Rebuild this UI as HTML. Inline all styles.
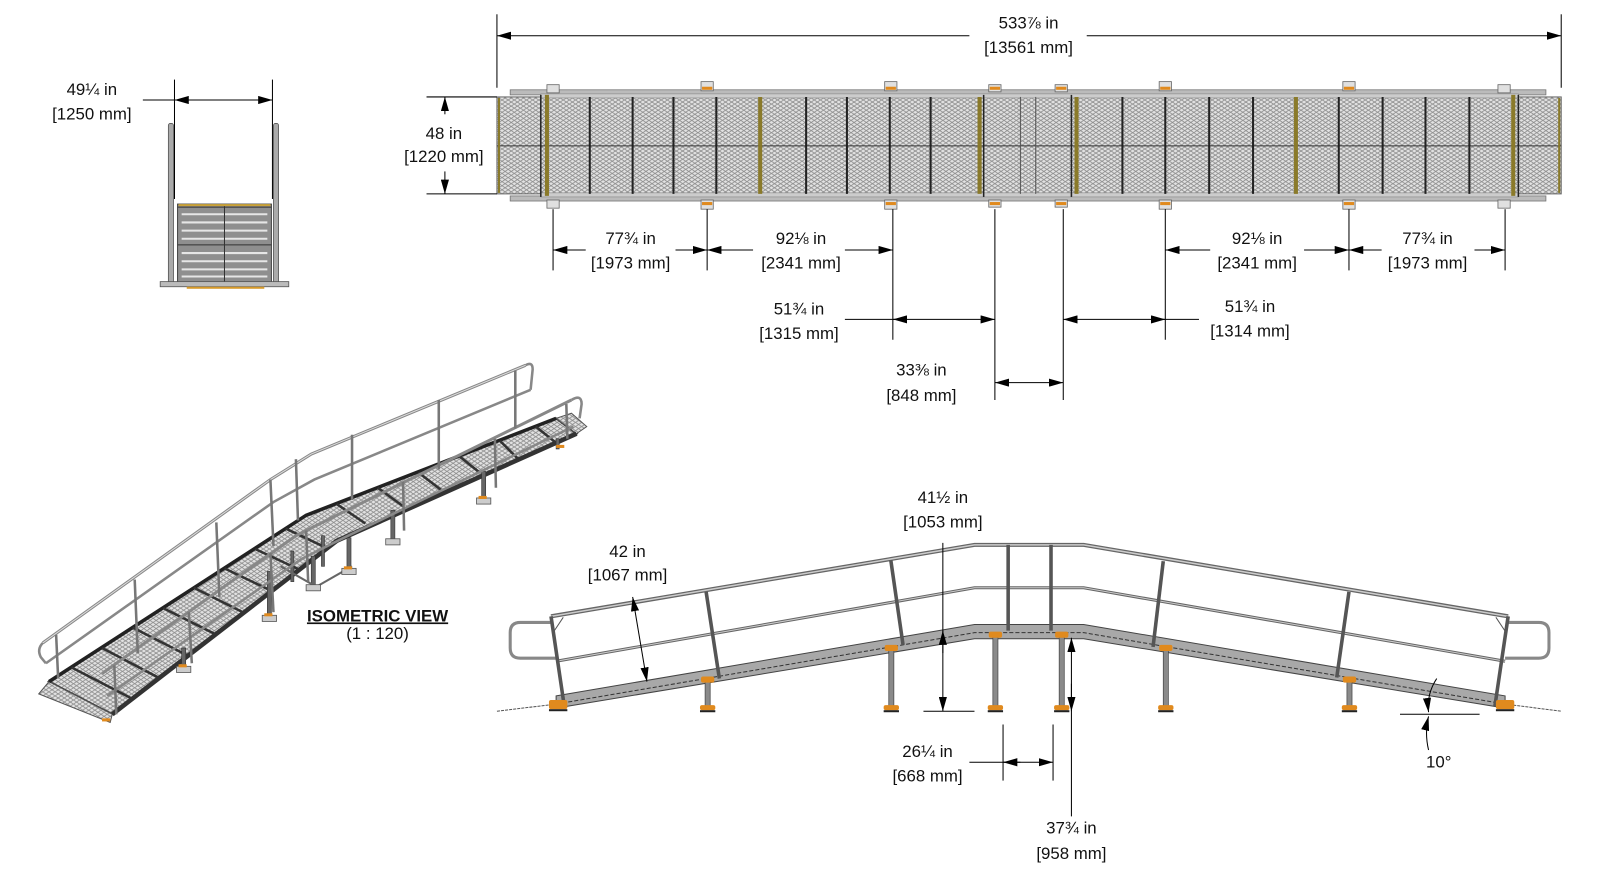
<!DOCTYPE html>
<html><head><meta charset="utf-8"><style>
html,body{margin:0;padding:0;background:#fff;}
svg{display:block}
text{font-family:"Liberation Sans",Arial,sans-serif;fill:#111;font-size:16.5px;text-anchor:middle}
</style></head><body>
<svg width="1600" height="877" viewBox="0 0 1600 877" xmlns="http://www.w3.org/2000/svg">
<defs>
<pattern id="mesh" width="6" height="4" patternUnits="userSpaceOnUse">
<rect width="6" height="4" fill="#e2e2e2"/>
<path d="M0 2 L3 0 L6 2 L3 4 Z" fill="none" stroke="#8a8a8a" stroke-width="0.8"/>
</pattern>
<marker id="ar" markerWidth="14" markerHeight="8" refX="14" refY="4" orient="auto" markerUnits="userSpaceOnUse">
<path d="M0 0 L14 4 L0 8 Z" fill="#000"/></marker>
<marker id="al" markerWidth="14" markerHeight="8" refX="0" refY="4" orient="auto" markerUnits="userSpaceOnUse">
<path d="M14 0 L0 4 L14 8 Z" fill="#000"/></marker>
</defs>
<g transform="scale(1.0204)">
<!-- ============ PLAN VIEW ============ -->
<g>
<rect x="487" y="95" width="1043" height="95" fill="url(#mesh)" stroke="#666" stroke-width="1"/>
<line x1="487" y1="143" x2="1530" y2="143" stroke="#333" stroke-width="1"/>
<rect x="500" y="88" width="1015" height="5" fill="#bbb" stroke="#777" stroke-width="0.8"/>
<rect x="500" y="192" width="1015" height="5" fill="#bbb" stroke="#777" stroke-width="0.8"/>
<rect x="530" y="92" width="958" height="4" fill="#ccc" stroke="#888" stroke-width="0.6"/>
<rect x="530" y="189" width="958" height="4" fill="#ccc" stroke="#888" stroke-width="0.6"/>
<g stroke="#222" stroke-width="2">
<line x1="578" y1="95" x2="578" y2="190"/><line x1="620" y1="95" x2="620" y2="190"/>
<line x1="660" y1="95" x2="660" y2="190"/><line x1="702" y1="95" x2="702" y2="190"/>
<line x1="790" y1="95" x2="790" y2="190"/><line x1="830" y1="95" x2="830" y2="190"/>
<line x1="872" y1="95" x2="872" y2="190"/><line x1="912" y1="95" x2="912" y2="190"/>
<line x1="1100" y1="95" x2="1100" y2="190"/><line x1="1142" y1="95" x2="1142" y2="190"/>
<line x1="1185" y1="95" x2="1185" y2="190"/><line x1="1228" y1="95" x2="1228" y2="190"/>
<line x1="1312" y1="95" x2="1312" y2="190"/><line x1="1355" y1="95" x2="1355" y2="190"/>
<line x1="1397" y1="95" x2="1397" y2="190"/><line x1="1440" y1="95" x2="1440" y2="190"/>
<line x1="1000" y1="95" x2="1000" y2="190" stroke="#555" stroke-width="1"/>
<line x1="1015" y1="95" x2="1015" y2="190" stroke="#555" stroke-width="1"/>
</g>
<g stroke="#8a7a2a" stroke-width="4">
<line x1="489" y1="96" x2="489" y2="189" stroke-width="2"/>
<line x1="536" y1="93" x2="536" y2="192"/><line x1="745" y1="95" x2="745" y2="190"/>
<line x1="960" y1="95" x2="960" y2="190"/><line x1="1055" y1="95" x2="1055" y2="190"/>
<line x1="1270" y1="95" x2="1270" y2="190"/><line x1="1483" y1="93" x2="1483" y2="192"/>
<line x1="1528" y1="96" x2="1528" y2="189" stroke-width="2"/>
</g>
<g stroke="#222" stroke-width="1.5" fill="none">
<line x1="530" y1="93" x2="530" y2="193"/><line x1="964" y1="93" x2="964" y2="193"/>
<line x1="1050" y1="93" x2="1050" y2="193"/><line x1="1488" y1="93" x2="1488" y2="193"/>
</g>
<g fill="#e0e0e0" stroke="#666" stroke-width="0.8">
<rect x="536" y="83" width="12" height="8"/><rect x="536" y="196" width="12" height="8"/>
<rect x="687" y="80" width="12" height="9"/><rect x="687" y="196" width="12" height="9"/>
<rect x="867" y="80" width="12" height="9"/><rect x="867" y="196" width="12" height="9"/>
<rect x="969" y="83" width="12" height="7"/><rect x="969" y="196" width="12" height="7"/>
<rect x="1034" y="83" width="12" height="7"/><rect x="1034" y="196" width="12" height="7"/>
<rect x="1136" y="80" width="12" height="9"/><rect x="1136" y="196" width="12" height="9"/>
<rect x="1316" y="80" width="12" height="9"/><rect x="1316" y="196" width="12" height="9"/>
<rect x="1468" y="83" width="12" height="8"/><rect x="1468" y="196" width="12" height="8"/>
</g>
<g fill="#e08a1e">
<rect x="688" y="85" width="10" height="3"/><rect x="688" y="198" width="10" height="3"/>
<rect x="868" y="85" width="10" height="3"/><rect x="868" y="198" width="10" height="3"/>
<rect x="970" y="85" width="10" height="3"/><rect x="970" y="198" width="10" height="3"/>
<rect x="1035" y="85" width="10" height="3"/><rect x="1035" y="198" width="10" height="3"/>
<rect x="1137" y="85" width="10" height="3"/><rect x="1137" y="198" width="10" height="3"/>
<rect x="1317" y="85" width="10" height="3"/><rect x="1317" y="198" width="10" height="3"/>
</g>
</g>
<g stroke="#000" stroke-width="1" fill="none">
<line x1="487" y1="14" x2="487" y2="86"/><line x1="1530" y1="14" x2="1530" y2="86"/>
<line x1="487" y1="35" x2="950" y2="35" marker-start="url(#al)"/><line x1="1065" y1="35" x2="1530" y2="35" marker-end="url(#ar)"/>
<line x1="418" y1="95" x2="487" y2="95"/><line x1="418" y1="190" x2="487" y2="190"/>
<line x1="436" y1="95" x2="436" y2="112" marker-start="url(#al)"/><line x1="436" y1="168" x2="436" y2="190" marker-end="url(#ar)"/>
<line x1="542" y1="205" x2="542" y2="265"/><line x1="693" y1="205" x2="693" y2="265"/>
<line x1="875" y1="205" x2="875" y2="333"/><line x1="1142" y1="205" x2="1142" y2="333"/>
<line x1="1322" y1="205" x2="1322" y2="265"/><line x1="1475" y1="205" x2="1475" y2="265"/>
<line x1="975" y1="205" x2="975" y2="392"/><line x1="1042" y1="205" x2="1042" y2="392"/>
<line x1="542" y1="245" x2="574" y2="245" marker-start="url(#al)"/><line x1="662" y1="245" x2="693" y2="245" marker-end="url(#ar)"/>
<line x1="693" y1="245" x2="738" y2="245" marker-start="url(#al)"/><line x1="828" y1="245" x2="875" y2="245" marker-end="url(#ar)"/>
<line x1="1142" y1="245" x2="1186" y2="245" marker-start="url(#al)"/><line x1="1278" y1="245" x2="1322" y2="245" marker-end="url(#ar)"/>
<line x1="1322" y1="245" x2="1354" y2="245" marker-start="url(#al)"/><line x1="1445" y1="245" x2="1475" y2="245" marker-end="url(#ar)"/>
<line x1="828" y1="313" x2="975" y2="313" marker-end="url(#ar)"/><line x1="875" y1="313" x2="880" y2="313" marker-start="url(#al)"/>
<line x1="1042" y1="313" x2="1175" y2="313" marker-start="url(#al)"/><line x1="1137" y1="313" x2="1142" y2="313" marker-end="url(#ar)"/>
<line x1="975" y1="375" x2="1042" y2="375" marker-start="url(#al)" marker-end="url(#ar)"/>
</g>
<text x="1008" y="28">533⅞ in</text><text x="1008" y="52">[13561 mm]</text>
<text x="435" y="136">48 in</text><text x="435" y="159">[1220 mm]</text>
<text x="618" y="239">77¾ in</text><text x="618" y="263">[1973 mm]</text>
<text x="785" y="239">92⅛ in</text><text x="785" y="263">[2341 mm]</text>
<text x="1232" y="239">92⅛ in</text><text x="1232" y="263">[2341 mm]</text>
<text x="1399" y="239">77¾ in</text><text x="1399" y="263">[1973 mm]</text>
<text x="783" y="308">51¾ in</text><text x="783" y="332">[1315 mm]</text>
<text x="1225" y="306">51¾ in</text><text x="1225" y="330">[1314 mm]</text>
<text x="903" y="368">33⅜ in</text><text x="903" y="393">[848 mm]</text>

<!-- ============ END VIEW ============ -->
<g>
<line x1="171" y1="78" x2="171" y2="195" stroke="#000"/><line x1="267" y1="78" x2="267" y2="195" stroke="#000"/>
<line x1="140" y1="98" x2="267" y2="98" stroke="#000" marker-end="url(#ar)"/>
<line x1="171" y1="98" x2="185" y2="98" stroke="#000" marker-start="url(#al)"/>
<text x="90" y="93">49¼ in</text><text x="90" y="117">[1250 mm]</text>
<rect x="165" y="121" width="5" height="158" rx="2" fill="#aaa" stroke="#555" stroke-width="0.8"/>
<rect x="268" y="121" width="5" height="158" rx="2" fill="#aaa" stroke="#555" stroke-width="0.8"/>
<rect x="174" y="200" width="92" height="78" fill="#8f8f8f" stroke="#444" stroke-width="1"/>
<g stroke="#e6e6e6" stroke-width="2">
<line x1="178" y1="210" x2="262" y2="210"/><line x1="178" y1="218" x2="262" y2="218"/>
<line x1="178" y1="226" x2="262" y2="226"/><line x1="178" y1="234" x2="262" y2="234"/>
<line x1="178" y1="248" x2="262" y2="248"/><line x1="178" y1="256" x2="262" y2="256"/>
<line x1="178" y1="264" x2="262" y2="264"/><line x1="178" y1="271" x2="262" y2="271"/>
</g>
<g stroke="#333" stroke-width="1"><line x1="174" y1="203" x2="266" y2="203"/><line x1="174" y1="240" x2="266" y2="240"/><line x1="220" y1="200" x2="220" y2="278"/></g>
<rect x="175" y="200" width="90" height="2" fill="#c9a23a"/>
<rect x="157" y="276" width="126" height="5" fill="#bbb" stroke="#555" stroke-width="0.8"/>
<rect x="183" y="281" width="76" height="2" fill="#d69a2a"/>
</g>

<!-- ============ ISOMETRIC VIEW ============ -->
<g>
<polygon points="48,668 300,505 545,410 565,425 330,530 110,700" fill="url(#mesh)" stroke="#333" stroke-width="2"/>
<polygon points="38,680 48,668 110,700 108,708" fill="url(#mesh)" stroke="#555"/>
<polygon points="545,410 560,405 575,418 565,425" fill="url(#mesh)" stroke="#555"/>
<polyline points="48,668 300,505 545,410" fill="none" stroke="#222" stroke-width="3.5"/>
<polyline points="110,700 330,530 565,425" fill="none" stroke="#333" stroke-width="4.5"/>
<g stroke="#333" stroke-width="2.5">
<line x1="70" y1="654" x2="130" y2="685"/><line x1="100" y1="635" x2="157" y2="665"/>
<line x1="130" y1="615" x2="185" y2="643"/><line x1="160" y1="596" x2="212" y2="622"/>
<line x1="190" y1="576" x2="240" y2="601"/><line x1="220" y1="557" x2="268" y2="580"/>
<line x1="250" y1="538" x2="295" y2="559"/><line x1="280" y1="518" x2="320" y2="537"/>
<line x1="330" y1="494" x2="358" y2="513"/><line x1="370" y1="478" x2="395" y2="496"/>
<line x1="410" y1="463" x2="432" y2="480"/><line x1="450" y1="447" x2="470" y2="463"/>
<line x1="490" y1="432" x2="508" y2="450"/><line x1="525" y1="418" x2="545" y2="434"/>
</g>
<g fill="#666" stroke="#333" stroke-width="0.6">
<rect x="178" y="635" width="4" height="20"/><rect x="262" y="560" width="4" height="45"/>
<rect x="305" y="545" width="4" height="30"/><rect x="340" y="527" width="4" height="32"/>
<rect x="383" y="500" width="4" height="30"/><rect x="472" y="462" width="4" height="28"/>
<rect x="545" y="430" width="3" height="10"/><rect x="285" y="540" width="3" height="30"/>
<rect x="315" y="525" width="3" height="30"/>
</g>
<g stroke="#666" stroke-width="2"><line x1="275" y1="555" x2="310" y2="575"/><line x1="310" y1="575" x2="345" y2="555"/></g>
<g fill="#ccc" stroke="#555" stroke-width="0.8">
<rect x="173" y="653" width="14" height="6"/><rect x="257" y="603" width="14" height="6"/>
<rect x="300" y="573" width="14" height="6"/><rect x="335" y="557" width="14" height="6"/>
<rect x="378" y="528" width="14" height="6"/><rect x="467" y="488" width="14" height="6"/>
</g>
<polyline points="42,630 265,470 305,445 515,358" fill="none" stroke="#888" stroke-width="3"/>
<polyline points="42,630 265,470 305,445 515,358" fill="none" stroke="#ddd" stroke-width="1"/>
<polyline points="45,650 268,492 308,470 520,382" fill="none" stroke="#888" stroke-width="2.5"/>
<path d="M515,358 Q522,354 522,362 L520,382" fill="none" stroke="#888" stroke-width="2.5"/>
<path d="M42,630 Q36,636 40,644 L45,650" fill="none" stroke="#888" stroke-width="2.5"/>
<polyline points="100,660 290,525 330,505 560,392" fill="none" stroke="#888" stroke-width="3"/>
<polyline points="105,682 295,548 335,528 562,418" fill="none" stroke="#888" stroke-width="2.5"/>
<path d="M560,392 Q570,386 570,396 L568,410" fill="none" stroke="#888" stroke-width="2.5"/>
<g stroke="#777" stroke-width="2.5">
<line x1="55" y1="622" x2="57" y2="665"/><line x1="132" y1="568" x2="135" y2="640"/>
<line x1="212" y1="512" x2="215" y2="585"/><line x1="265" y1="470" x2="268" y2="535"/>
<line x1="290" y1="450" x2="292" y2="510"/><line x1="345" y1="426" x2="345" y2="490"/>
<line x1="430" y1="392" x2="430" y2="460"/><line x1="505" y1="363" x2="505" y2="420"/>
<line x1="112" y1="652" x2="114" y2="700"/><line x1="185" y1="600" x2="188" y2="650"/>
<line x1="265" y1="542" x2="268" y2="600"/><line x1="300" y1="520" x2="302" y2="570"/>
<line x1="395" y1="472" x2="396" y2="520"/><line x1="485" y1="430" x2="486" y2="478"/>
<line x1="555" y1="396" x2="556" y2="430"/>
</g>
<g fill="#e08a1e"><rect x="175" y="651" width="8" height="3"/><rect x="259" y="601" width="8" height="3"/><rect x="337" y="555" width="8" height="3"/><rect x="469" y="486" width="8" height="3"/><rect x="545" y="436" width="8" height="3"/><rect x="100" y="704" width="8" height="3"/></g>
<text x="370" y="609" font-weight="bold" font-size="17.5" text-decoration="underline">ISOMETRIC VIEW</text>
<text x="370" y="626" font-size="12.5">(1 : 120)</text>
</g>

<!-- ============ SIDE ELEVATION ============ -->
<g>
<line x1="487" y1="697" x2="545" y2="690" stroke="#555" stroke-dasharray="3,1"/>
<line x1="1475" y1="690" x2="1530" y2="697" stroke="#555" stroke-dasharray="3,1"/>
<polygon points="545,682 955,612 1062,612 1475,682 1475,694 1062,626 955,626 545,694" fill="#a8a8a8" stroke="#444" stroke-width="1"/>
<polyline points="545,690 955,620 1062,620 1475,690" fill="none" stroke="#333" stroke-width="1" stroke-dasharray="4,2"/>
<polyline points="540,604 955,534 1062,534 1478,604" fill="none" stroke="#666" stroke-width="4"/>
<polyline points="540,604 955,534 1062,534 1478,604" fill="none" stroke="#ccc" stroke-width="1.5"/>
<polyline points="545,648 955,576 1062,576 1475,648" fill="none" stroke="#666" stroke-width="3"/>
<polyline points="545,648 955,576 1062,576 1475,648" fill="none" stroke="#ccc" stroke-width="1"/>
<path d="M540,610 L510,610 Q500,610 500,620 L500,635 Q500,645 510,645 L545,645" fill="none" stroke="#888" stroke-width="3"/>
<path d="M1478,610 L1508,610 Q1518,610 1518,620 L1518,635 Q1518,645 1508,645 L1475,645" fill="none" stroke="#888" stroke-width="3"/>
<g stroke="#555" stroke-width="3.5">
<line x1="540" y1="604" x2="553" y2="692"/><line x1="692" y1="580" x2="705" y2="665"/>
<line x1="873" y1="549" x2="885" y2="632"/><line x1="988" y1="534" x2="988" y2="618"/>
<line x1="1030" y1="534" x2="1030" y2="618"/><line x1="1140" y1="550" x2="1130" y2="634"/>
<line x1="1322" y1="580" x2="1310" y2="664"/><line x1="1478" y1="604" x2="1465" y2="692"/>
</g>
<line x1="542" y1="620" x2="552" y2="605" stroke="#555" stroke-width="1"/>
<line x1="1476" y1="620" x2="1466" y2="605" stroke="#555" stroke-width="1"/>
<g fill="#8a8a8a" stroke="#444" stroke-width="0.7">
<rect x="691" y="668" width="5" height="26"/><rect x="871" y="637" width="5" height="57"/>
<rect x="973" y="624" width="5" height="70"/><rect x="1038" y="624" width="5" height="70"/>
<rect x="1140" y="637" width="5" height="57"/><rect x="1320" y="668" width="5" height="26"/>
</g>
<g fill="#e08a1e">
<rect x="687" y="663" width="13" height="6" rx="2"/><rect x="867" y="632" width="13" height="6" rx="2"/>
<rect x="969" y="619" width="13" height="6" rx="2"/><rect x="1034" y="619" width="13" height="6" rx="2"/>
<rect x="1136" y="632" width="13" height="6" rx="2"/><rect x="1316" y="663" width="13" height="6" rx="2"/>
<rect x="686" y="691" width="15" height="5" rx="2"/><rect x="866" y="691" width="15" height="5" rx="2"/>
<rect x="968" y="691" width="15" height="5" rx="2"/><rect x="1033" y="691" width="15" height="5" rx="2"/>
<rect x="1135" y="691" width="15" height="5" rx="2"/><rect x="1315" y="691" width="15" height="5" rx="2"/>
<rect x="538" y="686" width="18" height="9" rx="2"/><rect x="1466" y="686" width="18" height="9" rx="2"/>
</g>
<g fill="#222"><rect x="686" y="696" width="15" height="2"/><rect x="866" y="696" width="15" height="2"/><rect x="968" y="696" width="15" height="2"/><rect x="1033" y="696" width="15" height="2"/><rect x="1135" y="696" width="15" height="2"/><rect x="1315" y="696" width="15" height="2"/><rect x="538" y="695" width="18" height="2"/><rect x="1466" y="695" width="18" height="2"/></g>
</g>
<g stroke="#000" stroke-width="1" fill="none">
<line x1="620" y1="585" x2="634" y2="668" marker-start="url(#al)" marker-end="url(#ar)"/>
<line x1="924" y1="532" x2="924" y2="697" marker-end="url(#ar)"/>
<line x1="924" y1="640" x2="924" y2="618" marker-end="url(#ar)"/>
<line x1="905" y1="697" x2="955" y2="697"/>
<line x1="1050" y1="625" x2="1050" y2="800" marker-start="url(#al)"/>
<line x1="1050" y1="670" x2="1050" y2="697" marker-end="url(#ar)"/>
<line x1="983" y1="710" x2="983" y2="765"/><line x1="1032" y1="710" x2="1032" y2="765"/>
<line x1="950" y1="747" x2="1032" y2="747" marker-end="url(#ar)"/>
<line x1="983" y1="747" x2="1000" y2="747" marker-start="url(#al)"/>
<line x1="1372" y1="700" x2="1450" y2="700"/>
<path d="M1408,665 Q1398,680 1400,698" marker-end="url(#ar)"/>
<path d="M1400,735 Q1396,718 1400,702" marker-end="url(#ar)"/>
</g>
<text x="615" y="546">42 in</text><text x="615" y="569">[1067 mm]</text>
<text x="924" y="493">41½ in</text><text x="924" y="517">[1053 mm]</text>
<text x="909" y="742">26¼ in</text><text x="909" y="766">[668 mm]</text>
<text x="1050" y="817">37¾ in</text><text x="1050" y="842">[958 mm]</text>
<text x="1410" y="752">10°</text>
</g>
</svg>
</body></html>
